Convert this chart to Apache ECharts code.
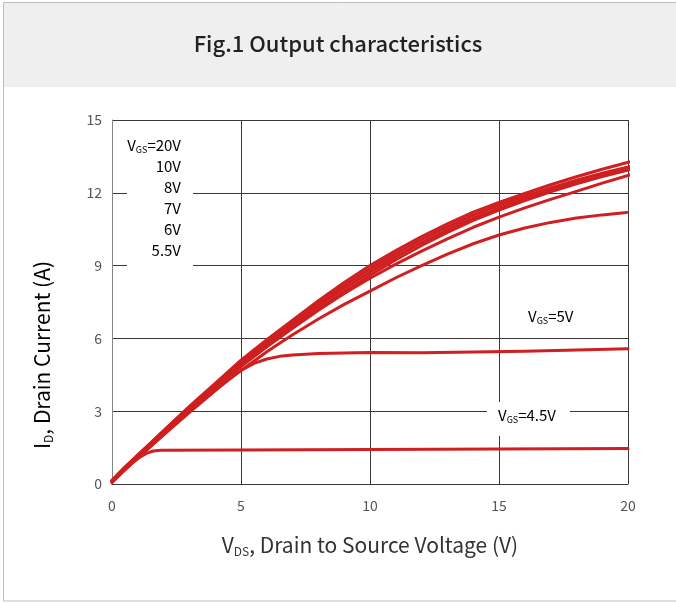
<!DOCTYPE html>
<html>
<head>
<meta charset="utf-8">
<script src="https://cdn.jsdelivr.net/npm/echarts@6/dist/echarts.min.js"></script>
<style>
  html, body { margin: 0; padding: 0; background: #ffffff; }
  #chart { width: 676px; height: 603px; }
</style>
</head>
<body>
<div id="chart"></div>
<script>
// Output characteristics: drain current vs. drain-source voltage, per gate voltage
const xTicks = [0, 5, 10, 15, 20];
const yTicks = [0, 3, 6, 9, 12, 15];

// [V_DS (V), I_D (A)] pairs for each gate-source voltage
const vgs20 = [[0,0.15],[0.5,0.7],[1,1.2],[1.5,1.7],[2,2.2],[3,3.2],[4,4.15],[5,5.1],[6,5.95],[7,6.75],[8,7.55],[9,8.3],[10,9.0],[11,9.62],[12,10.2],[13,10.72],[14,11.2],[15,11.6],[16,11.97],[17,12.33],[18,12.66],[19,12.97],[20.05,13.27]];
const vgs10 = [[0,0.15],[0.5,0.68],[1,1.18],[1.5,1.68],[2,2.18],[3,3.17],[4,4.1],[5,5.03],[6,5.88],[7,6.67],[8,7.45],[9,8.18],[10,8.87],[11,9.5],[12,10.08],[13,10.6],[14,11.08],[15,11.49],[16,11.86],[17,12.2],[18,12.52],[19,12.81],[20.05,13.08]];
const vgs8  = [[0,0.12],[0.5,0.66],[1,1.16],[1.5,1.66],[2,2.15],[3,3.13],[4,4.06],[5,4.97],[6,5.8],[7,6.58],[8,7.35],[9,8.06],[10,8.74],[11,9.37],[12,9.95],[13,10.48],[14,10.96],[15,11.38],[16,11.76],[17,12.11],[18,12.43],[19,12.72],[20.05,12.99]];
const vgs7  = [[0,0.12],[0.5,0.64],[1,1.14],[1.5,1.63],[2,2.12],[3,3.09],[4,4.01],[5,4.9],[6,5.72],[7,6.48],[8,7.22],[9,7.92],[10,8.6],[11,9.24],[12,9.83],[13,10.37],[14,10.86],[15,11.29],[16,11.68],[17,12.04],[18,12.37],[19,12.67],[20.05,12.95]];
const vgs6  = [[0,0.1],[0.5,0.62],[1,1.12],[1.5,1.6],[2,2.08],[3,3.04],[4,3.95],[5,4.84],[6,5.65],[7,6.42],[8,7.16],[9,7.85],[10,8.48],[11,9.06],[12,9.6],[13,10.1],[14,10.58],[15,11.0],[16,11.38],[17,11.73],[18,12.06],[19,12.4],[20.15,12.76]];
const vgs55 = [[0,0.1],[0.5,0.6],[1,1.08],[1.5,1.56],[2,2.03],[3,2.97],[4,3.86],[5,4.68],[6,5.45],[7,6.15],[8,6.8],[9,7.4],[10,7.95],[11,8.5],[12,9.0],[13,9.47],[14,9.9],[15,10.26],[16,10.55],[17,10.78],[18,10.96],[19,11.09],[19.95,11.19]];
const vgs5  = [[0,0.1],[0.5,0.6],[1,1.07],[1.5,1.55],[2,2.02],[3,2.95],[4,3.85],[4.5,4.3],[5,4.68],[5.5,4.97],[6,5.15],[6.5,5.26],[7,5.32],[8,5.38],[10,5.42],[12,5.41],[14,5.44],[16,5.47],[18,5.52],[20,5.57]];
const vgs45 = [[0,0.05],[0.4,0.48],[0.8,0.88],[1.1,1.12],[1.35,1.27],[1.6,1.36],[1.9,1.39],[5,1.4],[10,1.42],[15,1.44],[20,1.46]];

const curves = [
  { name: '20V', data: vgs20 },
  { name: '10V', data: vgs10 },
  { name: '8V', data: vgs8 },
  { name: '7V', data: vgs7 },
  { name: '6V', data: vgs6 },
  { name: '5.5V', data: vgs55 },
  { name: '5V', data: vgs5 },
  { name: '4.5V', data: vgs45 }
];

const FONT = '"Noto Sans CJK SC", "Noto Sans", sans-serif';
const RED = '#cf1f20';
const GRID = '#3d3636';
const TXT = '#555555';

const chart = echarts.init(document.getElementById('chart'), null, { renderer: 'canvas' });

const labelRich = {
  m: { fontFamily: FONT, fontSize: 15, color: TXT, lineHeight: 18 },
  s: { fontFamily: FONT, fontSize: 9, color: TXT, padding: [10, 0, 0, 0], lineHeight: 18 }
};

const nameRich = {
  a: { fontFamily: FONT, fontSize: 21, color: '#333', lineHeight: 26 },
  s: { fontFamily: FONT, fontSize: 12, color: '#333', padding: [13, 0, 0, 0], lineHeight: 26 }
};

const option = {
  backgroundColor: '#ffffff',
  animation: false,
  grid: { left: 112, right: 48, top: 120, bottom: 119, containLabel: false },
  xAxis: {
    type: 'value',
    min: xTicks[0],
    max: xTicks[xTicks.length - 1],
    interval: 5,
    axisLine: { show: true, onZero: false, lineStyle: { color: GRID, width: 1 } },
    axisTick: { show: false },
    splitLine: { show: true, showMinLine: true, showMaxLine: true, lineStyle: { color: GRID, width: 1 } },
    axisLabel: { color: TXT, fontFamily: FONT, fontSize: 14, margin: 15 },
    name: '{a|V}{s|DS}{a|, Drain to Source Voltage (V)}',
    nameLocation: 'middle',
    nameGap: 48,
    nameTextStyle: { rich: nameRich }
  },
  yAxis: {
    type: 'value',
    min: yTicks[0],
    max: yTicks[yTicks.length - 1],
    interval: 3,
    axisLine: { show: true, lineStyle: { color: '#8a8686', width: 1 } },
    axisTick: { show: false },
    splitLine: { show: true, showMinLine: true, showMaxLine: true, lineStyle: { color: GRID, width: 1 } },
    axisLabel: { color: TXT, fontFamily: FONT, fontSize: 14, margin: 10 }
  },
  title: {
    text: 'Fig.1 Output characteristics',
    left: 'center',
    top: 28,
    textStyle: { fontFamily: FONT, fontSize: 22, fontWeight: 500, color: '#222222' }
  },
  graphic: [
    // header band and outer frame
    { type: 'rect', z: -10, shape: { x: 3, y: 3, width: 680, height: 84 }, style: { fill: '#efefef' } },
    { type: 'rect', z: -9, shape: { x: 3.5, y: 2.5, width: 690, height: 598.5 }, style: { fill: 'none', stroke: '#bdbdbd', lineWidth: 1 } },
    // vertical axis title
    { type: 'text', z: 20, x: 42, y: 355, rotation: Math.PI / 2,
      style: { text: '{a|I}{s|D}{a|, Drain Current (A)}', rich: nameRich, align: 'center', verticalAlign: 'middle' } },
    // gate voltage key, drawn over a white block that breaks the grid lines
    { type: 'rect', z: 50, shape: { x: 127, y: 132, width: 66, height: 134 }, style: { fill: '#ffffff' } },
    { type: 'text', z: 51, x: 181, y: 145, style: { text: '{m|V}{s|GS}{m|=20V}', rich: labelRich, align: 'right', verticalAlign: 'middle' } },
    { type: 'text', z: 51, x: 181, y: 166, style: { text: '{m|10V}', rich: labelRich, align: 'right', verticalAlign: 'middle' } },
    { type: 'text', z: 51, x: 181, y: 187, style: { text: '{m|8V}', rich: labelRich, align: 'right', verticalAlign: 'middle' } },
    { type: 'text', z: 51, x: 181, y: 208, style: { text: '{m|7V}', rich: labelRich, align: 'right', verticalAlign: 'middle' } },
    { type: 'text', z: 51, x: 181, y: 229, style: { text: '{m|6V}', rich: labelRich, align: 'right', verticalAlign: 'middle' } },
    { type: 'text', z: 51, x: 181, y: 250, style: { text: '{m|5.5V}', rich: labelRich, align: 'right', verticalAlign: 'middle' } },
    { type: 'text', z: 51, x: 528, y: 316, style: { text: '{m|V}{s|GS}{m|=5V}', rich: labelRich, align: 'left', verticalAlign: 'middle' } },
    { type: 'rect', z: 50, shape: { x: 487, y: 402, width: 83, height: 34 }, style: { fill: '#ffffff' } },
    { type: 'text', z: 51, x: 498, y: 415, style: { text: '{m|V}{s|GS}{m|=4.5V}', rich: labelRich, align: 'left', verticalAlign: 'middle' } }
  ],
  series: curves.map(c => ({
    name: c.name,
    type: 'line',
    data: c.data,
    smooth: false,
    showSymbol: false,
    clip: false,
    lineStyle: { color: RED, width: 3, join: 'round', cap: 'round' },
    itemStyle: { color: RED },
    z: 5
  }))
};

chart.setOption(option);
</script>
</body>
</html>
